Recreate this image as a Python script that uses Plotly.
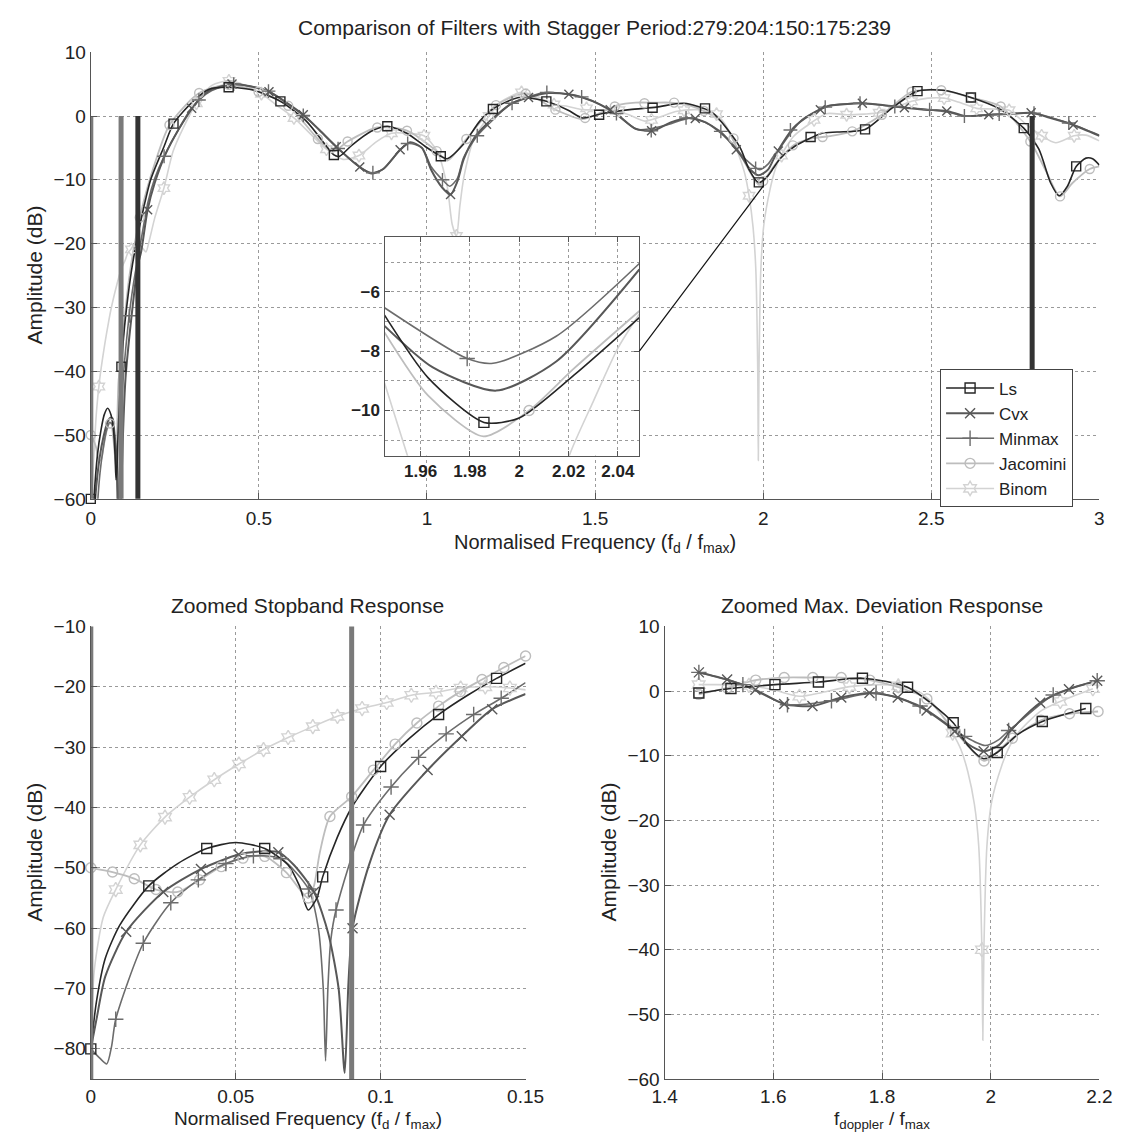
import numpy as np
import plotly.graph_objects as go

W, H = 1131, 1144

# ---------------- data ----------------
# Ls
LS_BL_MK_X = [0.00, 0.02, 0.04, 0.06, 0.08, 0.10, 0.12, 0.14]
LS_BL_MK_Y = [-80.0, -53.0, -46.8, -46.8, -51.5, -33.2, -24.6, -18.6]
LS_TOP_MK_X = [0.000, 0.091, 0.246, 0.410, 0.564, 0.723, 0.882, 1.041, 1.196, 1.355, 1.512, 1.671,
               1.827, 1.987, 2.141, 2.303, 2.459, 2.618, 2.775, 2.931]
LS_TOP_MK_Y = [-60.0, -39.3, -1.2, 4.5, 2.3, -6.1, -1.6, -6.3, 1.1, 2.3, 0.2, 1.3,
               1.2, -10.4, -3.3, -2.1, 3.9, 2.9, -1.9, -7.9]
LS_BR_MK_X = [1.463, 1.522, 1.603, 1.683, 1.764, 1.847, 1.931, 2.012, 2.095, 2.175]
LS_BR_MK_Y = [-0.3, 0.4, 1.0, 1.4, 2.0, 0.6, -4.9, -9.5, -4.7, -2.7]
LS_EX_X = [0.002, 0.005, 0.010, 0.030, 0.050, 0.068, 0.072, 0.075, 0.078, 0.085, 0.090, 0.110, 0.130,
           0.150, 0.178, 0.217, 0.304, 0.352, 0.487, 0.641, 0.699, 0.740, 0.776, 0.834, 0.940, 0.998,
           1.060, 1.109, 1.157, 1.273, 1.420, 1.958, 1.987, 2.030, 2.050, 2.220, 2.382, 2.536, 2.700,
           2.820, 2.855, 2.880, 2.905, 2.960, 2.980, 3.000]
LS_EX_Y = [-72, -65, -59.5, -49.3, -45.8, -49.5, -53.0, -57.0, -55.0, -45.0, -40.0, -28.5, -21.4,
           -16.1, -10.0, -4.9, 2.3, 4.2, 4.0, -0.8, -4.6, -6.3, -4.6, -2.4, -2.7, -4.9,
           -6.7, -4.4, -0.8, 2.9, 0.9, -8.4, -10.45, -8.2, -6.7, -2.5, 1.2, 4.05, 1.2,
           -5.2, -10.5, -12.5, -11.0, -6.6, -6.7, -7.7]

# Cvx
CVX_BL_MK_X = [0.0122, 0.0250, 0.0380, 0.0510, 0.0647, 0.0770, 0.0903, 0.1031, 0.1162, 0.1280, 0.1385]
CVX_BL_MK_Y = [-60.6, -54.0, -50.2, -47.8, -47.4, -54.0, -60.0, -41.2, -33.8, -28.2, -23.7]
CVX_TOP_MK_X = [0.169, 0.300, 0.420, 0.530, 0.632, 0.730, 0.800, 0.920, 1.070, 1.177, 1.302, 1.422,
                1.545, 1.668, 1.798, 1.920, 2.045, 2.170, 2.295, 2.420, 2.546, 2.671, 2.797, 2.922]
CVX_TOP_MK_Y = [-14.7, 1.2, 5.0, 3.8, 0.2, -4.8, -8.0, -5.3, -12.3, -1.3, 2.9, 3.4,
                1.0, -2.3, -0.4, -5.3, -5.5, 1.0, 2.0, 1.3, 0.8, 0.2, 0.5, -1.4]
CVX_BR_MK_X = [1.463, 1.515, 1.567, 1.620, 1.672, 1.725, 1.777, 1.829, 1.882, 1.934, 1.987, 2.039,
               2.091, 2.144, 2.196]
CVX_BR_MK_Y = [2.9, 1.8, 0.2, -2.0, -2.3, -1.0, -0.3, -1.0, -3.0, -6.2, -9.3, -5.9, -1.8, 0.3, 1.6]
CVX_EX_X = [0.000, 0.002, 0.005, 0.058, 0.070, 0.082, 0.0855, 0.0876, 0.0889, 0.096, 0.150, 0.190,
            0.222, 0.260, 0.350, 0.470, 0.680, 0.834, 0.870, 0.950, 0.985, 1.013, 1.045, 1.090,
            1.109, 1.140, 1.250, 1.360, 1.960, 2.015, 2.230, 2.360, 2.480, 2.600, 2.730, 2.860, 3.000]
CVX_EX_Y = [-80, -75, -68, -47.3, -49.5, -61, -70, -84, -69, -49.5, -21.2, -10.5,
            -6.0, -2.2, 3.9, 4.7, -2.2, -9.0, -8.3, -4.1, -5.0, -8.5, -11.2, -10.3,
            -6.8, -3.5, 1.9, 3.6, -8.3, -8.35, 1.8, 1.7, 1.0, 0.0, 0.3, -0.4, -3.1]

# Minmax
MM_BL_MK_X = [0.0086, 0.0181, 0.0276, 0.0371, 0.0466, 0.0561, 0.0656, 0.0751, 0.0846, 0.0941,
              0.1036, 0.1131, 0.1226, 0.1321, 0.1416]
MM_BL_MK_Y = [-75.1, -62.5, -55.8, -52.0, -49.3, -48.0, -48.5, -53.5, -57.0, -42.9,
              -36.6, -31.7, -27.8, -24.6, -21.9]
MM_TOP_MK_X = [0.1145, 0.2180, 0.3215, 0.4250, 0.5285, 0.6320, 0.7355, 0.8390, 0.9425, 1.0460,
               1.1495, 1.2530, 1.3565, 1.4600, 1.5635, 1.6670, 1.7705, 1.8740, 1.9775, 2.0810,
               2.1845, 2.2880, 2.3915, 2.4950, 2.5985, 2.7020, 2.8055, 2.9090]
MM_TOP_MK_Y = [-31.3, -6.3, 2.5, 5.0, 3.9, 0.1, -5.1, -8.9, -4.3, -10.0,
               -3.1, 2.0, 3.7, 3.0, 0.4, -2.3, -0.3, -2.4, -8.2, -2.2,
               1.4, 2.0, 1.5, 1.0, 0.0, 0.3, 0.45, -1.1]
MM_BR_MK_X = [1.463, 1.544, 1.626, 1.707, 1.789, 1.870, 1.952, 2.033, 2.115, 2.196]
MM_BR_MK_Y = [2.9, 1.0, -2.1, -1.5, -0.3, -2.3, -7.0, -6.1, -0.6, 1.6]
MM_EX_X = [0.000, 0.003, 0.0055, 0.0072, 0.0785, 0.0802, 0.0810, 0.0818, 0.0828, 0.150, 0.170,
           0.190, 0.260, 0.360, 0.470, 0.680, 0.800, 0.870, 0.985, 1.013, 1.068, 1.090, 1.109,
           1.200, 1.9894, 2.015, 2.0487, 2.250, 2.550, 2.650, 2.750, 2.860, 3.000]
MM_EX_Y = [-80, -81.5, -82.5, -79.5, -60, -70, -82, -70, -62, -19.3, -13.5,
           -9.8, -2.2, 4.0, 4.7, -2.2, -8.0, -8.3, -5.0, -8.0, -11.0, -9.8, -6.5,
           -0.4, -8.41, -7.5, -5.05, 1.9, 0.6, 0.1, 0.4, -0.3, -3.0]

# Jacomini
JAC_BL_MK_X = [0.0000, 0.0075, 0.0150, 0.0225, 0.0300, 0.0375, 0.0450, 0.0525, 0.0600, 0.0675,
               0.0750, 0.0825, 0.0900, 0.0975, 0.1050, 0.1125, 0.1200, 0.1275, 0.1350, 0.1425, 0.1500]
JAC_BL_MK_Y = [-50.0, -50.7, -51.8, -53.6, -54.0, -52.0, -49.8, -48.4, -48.1, -50.8,
               -55.0, -41.5, -38.2, -33.8, -29.5, -26.0, -23.2, -20.8, -18.8, -16.8, -14.9]
JAC_TOP_MK_X = [0.0000, 0.0574, 0.1457, 0.2340, 0.3223, 0.4106, 0.4989, 0.5872, 0.6755, 0.7638,
                0.8521, 0.9404, 1.0287, 1.1170, 1.2053, 1.2936, 1.3819, 1.4702, 1.5585, 1.6468,
                1.7351, 1.8234, 1.9117, 2.0000, 2.0883, 2.1766, 2.2649, 2.3532, 2.4415, 2.5298,
                2.6181, 2.7064, 2.7947, 2.8830, 2.9713]
JAC_TOP_MK_Y = [-50.0, -48.2, -15.9, -1.4, 3.6, 4.9, 3.8, 1.6, -3.6, -4.0,
                -1.8, -2.3, -5.5, -3.6, 1.7, 3.5, 1.0, -0.3, 1.5, 2.0,
                2.1, 0.8, -3.5, -10.2, -4.6, -3.3, -2.4, 0.2, 3.8, 4.05,
                2.9, 1.5, -4.0, -12.6, -8.3]
JAC_BR_MK_X = [1.4626, 1.5150, 1.5676, 1.6200, 1.6726, 1.7250, 1.7776, 1.8300, 1.8826, 1.9350,
               1.9876, 2.0400, 2.0926, 2.1450, 2.1976]
JAC_BR_MK_Y = [-0.5, 0.5, 1.7, 2.1, 2.1, 2.1, 1.7, 0.6, -1.2, -6.3, -10.8, -7.3, -4.5, -3.5, -3.15]
JAC_EX_X = [0.077, 0.079, 0.190, 0.720, 1.060, 2.004, 2.022, 2.840, 2.920, 3.000]
JAC_EX_Y = [-53.0, -47.5, -7.5, -5.6, -7.0, -10.0, -8.6, -8.5, -10.5, -7.9]

# Binom
BIN_BL_MK_X = [0.0086, 0.0171, 0.0256, 0.0341, 0.0426, 0.0511, 0.0596, 0.0681, 0.0766, 0.0851,
               0.0936, 0.1021, 0.1106, 0.1191, 0.1276, 0.1361, 0.1446]
BIN_BL_MK_Y = [-53.6, -46.2, -41.6, -38.3, -35.4, -32.8, -30.4, -28.4, -26.6, -24.9,
               -23.6, -22.6, -21.4, -20.9, -20.2, -20.0, -20.2]
BIN_TOP_MK_X = [0.0240, 0.1207, 0.2174, 0.3141, 0.4108, 0.5075, 0.6042, 0.7009, 0.7976, 0.8943,
                0.9910, 1.0877, 1.1844, 1.2811, 1.3778, 1.4745, 1.5712, 1.6679, 1.7646, 1.8613,
                1.9580, 2.0547, 2.1514, 2.2481, 2.3448, 2.4415, 2.5382, 2.6349, 2.7316, 2.8283, 2.9250]
BIN_TOP_MK_Y = [-42.4, -20.9, -11.3, 2.0, 5.5, 3.5, -0.3, -5.2, -6.2, -2.7,
                -3.1, -18.8, 0.0, 3.7, 1.8, 1.2, 0.9, -0.6, 0.9, 0.3,
                -12.5, -6.2, -0.6, 0.2, 0.5, 2.3, 2.8, 1.2, 0.9, -3.1, -3.1]
BIN_BR_MK_X = [1.4626, 1.5550, 1.6480, 1.7400, 1.8300, 1.9300, 1.9838, 2.1280, 2.1880]
BIN_BR_MK_Y = [1.0, 0.9, -0.8, 0.7, 0.8, -6.5, -40.0, -1.6, 0.37]
BIN_EX_X = [0.0000, 0.0012, 0.0043, 0.1500, 0.1570, 0.1640, 0.1750, 0.1900, 0.2450, 0.2750, 0.3600,
            0.4600, 0.5500, 0.7500, 0.8500, 0.9400, 1.0300, 1.0600, 1.0750, 1.0980, 1.1100, 1.1400,
            1.2200, 1.3300, 1.4200, 1.6000, 1.6900, 1.8000, 1.8700, 1.9000, 1.9454, 1.9580, 1.9700,
            1.9780, 1.9855, 1.9875, 1.9930, 2.0020, 2.0204, 2.0350, 2.0500, 2.0900, 2.3000, 2.4000,
            2.4900, 2.5800, 2.6800, 2.7800, 2.8700, 2.9600, 3.0000]
BIN_EX_Y = [-80, -67, -58.2, -20.5, -20.9, -21.3, -19.3, -16.0, -5.5, -1.85, 4.8,
            4.8, 1.8, -6.8, -4.0, -2.7, -5.5, -11.0, -17.0, -14.0, -9.5, -3.5,
            2.2, 3.0, 1.5, 0.2, -0.2, 1.0, -0.2, -2.5, -9.07, -12.5, -17.5,
            -24.0, -54.0, -40.0, -24.0, -17.0, -11.5, -8.5, -6.5, -3.2, 0.3, 1.5,
            2.8, 2.2, 1.1, -1.2, -4.2, -3.0, -3.9]

# inset (zoom around f = 2)
IN_LS_X = [1.9454, 1.9631, 1.9857, 2.0000, 2.0223, 2.0487]
IN_LS_Y = [-6.79, -8.9, -10.4, -10.25, -8.8, -6.87]
IN_CVX_X = [1.9454, 1.9650, 1.9907, 2.0150, 2.0487]
IN_CVX_Y = [-7.15, -8.55, -9.33, -8.35, -5.25]
IN_MM_X = [1.9454, 1.9789, 1.9894, 2.0150, 2.0487]
IN_MM_Y = [-6.54, -8.25, -8.41, -7.5, -5.05]
IN_JAC_X = [1.9454, 1.9631, 1.9855, 2.0040, 2.0220, 2.0487]
IN_JAC_Y = [-7.37, -9.5, -10.87, -10.0, -8.6, -6.65]
IN_BIN_X = [1.9454, 1.9550, 1.9620, 1.9855, 2.0140, 2.0204, 2.0300, 2.0400, 2.0487]
IN_BIN_Y = [-9.07, -11.6, -13.5, -54.0, -13.5, -11.5, -9.7, -7.9, -6.75]
IN_MK = {"Ls": ([1.9857], [-10.4]), "Minmax": ([1.9789], [-8.25]), "Jacomini": ([2.004], [-10.0])}

# band edges
STOP_EDGES = [0.0, 0.09]
PASS_EDGES = [0.14, 2.8]
EDGE_Y = [0.0, -100.0]

# connector from inset to main curve
LINK_INSET = (2.0487, -8.0)
LINK_MAIN = (2.0, -11.0)

# ---------------- styles ----------------
STYLE = {
    "Ls": dict(color="#262626", width=1.6, symbol="square-open", size=10),
    "Cvx": dict(color="#585858", width=2.0, symbol="x-thin-open", size=10),
    "Minmax": dict(color="#6c6c6c", width=1.6, symbol="cross-thin-open", size=11),
    "Jacomini": dict(color="#bdbdbd", width=1.8, symbol="circle-open", size=10),
    "Binom": dict(color="#d3d3d3", width=1.6, symbol="hexagram-open", size=11),
}

DATA = {
    "Ls": dict(bl=(LS_BL_MK_X, LS_BL_MK_Y), top=(LS_TOP_MK_X, LS_TOP_MK_Y), br=(LS_BR_MK_X, LS_BR_MK_Y),
               ex=(LS_EX_X, LS_EX_Y), inset=(IN_LS_X, IN_LS_Y)),
    "Cvx": dict(bl=(CVX_BL_MK_X, CVX_BL_MK_Y), top=(CVX_TOP_MK_X, CVX_TOP_MK_Y), br=(CVX_BR_MK_X, CVX_BR_MK_Y),
                ex=(CVX_EX_X, CVX_EX_Y), inset=(IN_CVX_X, IN_CVX_Y)),
    "Minmax": dict(bl=(MM_BL_MK_X, MM_BL_MK_Y), top=(MM_TOP_MK_X, MM_TOP_MK_Y), br=(MM_BR_MK_X, MM_BR_MK_Y),
                   ex=(MM_EX_X, MM_EX_Y), inset=(IN_MM_X, IN_MM_Y)),
    "Jacomini": dict(bl=(JAC_BL_MK_X, JAC_BL_MK_Y), top=(JAC_TOP_MK_X, JAC_TOP_MK_Y), br=(JAC_BR_MK_X, JAC_BR_MK_Y),
                     ex=(JAC_EX_X, JAC_EX_Y), inset=(IN_JAC_X, IN_JAC_Y)),
    "Binom": dict(bl=(BIN_BL_MK_X, BIN_BL_MK_Y), top=(BIN_TOP_MK_X, BIN_TOP_MK_Y), br=(BIN_BR_MK_X, BIN_BR_MK_Y),
                  ex=(BIN_EX_X, BIN_EX_Y), inset=(IN_BIN_X, IN_BIN_Y)),
}
LEGEND_ORDER = ["Ls", "Cvx", "Minmax", "Jacomini", "Binom"]
DRAW_ORDER = ["Binom", "Jacomini", "Minmax", "Cvx", "Ls"]

BL_WIN = (0.0, 0.152)
BR_WIN = (1.46, 2.2)


def merge(*parts):
    xs = np.concatenate([np.asarray(p[0], float) for p in parts])
    ys = np.concatenate([np.asarray(p[1], float) for p in parts])
    order = np.argsort(xs, kind="stable")
    xs, ys = xs[order], ys[order]
    keep = np.concatenate([[True], np.diff(xs) > 1e-9])
    return xs[keep], ys[keep]


def outside_windows(p):
    x = np.asarray(p[0], float)
    y = np.asarray(p[1], float)
    m = (x > BL_WIN[1]) & ((x < BR_WIN[0] - 0.02) | (x > BR_WIN[1] + 0.01))
    return x[m], y[m]


def window(x, y, lo, hi):
    m = (x >= lo) & (x <= hi)
    return x[m], y[m]


# ---------------- layout geometry (pixels) ----------------
def dx(l, r):
    return [l / W, r / W]


def dy(t, b):
    return [1 - b / H, 1 - t / H]


TOP_X, TOP_Y = dx(80, 1117), dy(43, 498)
BL_X, BL_Y = dx(80, 527), dy(628, 1089)
BR_X, BR_Y = dx(670, 1117), dy(628, 1089)
IN_X, IN_Y = dx(382, 644), dy(231, 454)

TOP_XR, TOP_YR = [0, 3], [-60, 10]
BL_XR, BL_YR = [0, 0.15], [-85, -10]
BR_XR, BR_YR = [1.4, 2.2], [-60, 10]
IN_XR, IN_YR = [1.9454, 2.0487], [-11.52, -4.15]

FONT = "Liberation Sans, Arial, Helvetica, sans-serif"
TICK_SIZE = 19

fig = go.Figure()


def line_trace(x, y, st, xa, ya):
    return go.Scatter(x=x, y=y, mode="lines", xaxis=xa, yaxis=ya, showlegend=False, hoverinfo="skip",
                      line=dict(color=st["color"], width=st["width"], shape="spline", smoothing=0.7))


def mk_trace(x, y, st, xa, ya, scale=1.0):
    return go.Scatter(x=x, y=y, mode="markers", xaxis=xa, yaxis=ya, showlegend=False, hoverinfo="skip",
                      cliponaxis=False,
                      marker=dict(symbol=st["symbol"], size=st["size"] * scale, color=st["color"],
                                  line=dict(color=st["color"], width=1.4)))


curves = {}
for name in DRAW_ORDER:
    d = DATA[name]
    curves[name] = merge(d["bl"], outside_windows(d["top"]), d["br"], d["ex"])

# --- top plot
for name in DRAW_ORDER:
    x, y = curves[name]
    fig.add_trace(line_trace(x, y, STYLE[name], "x", "y"))
for name in DRAW_ORDER:
    x, y = DATA[name]["top"]
    fig.add_trace(mk_trace(x, y, STYLE[name], "x", "y", 0.9))
for e in STOP_EDGES:
    fig.add_trace(go.Scatter(x=[e, e], y=EDGE_Y, mode="lines", xaxis="x", yaxis="y", showlegend=False,
                             hoverinfo="skip", line=dict(color="#7a7a7a", width=5)))
for e in PASS_EDGES:
    fig.add_trace(go.Scatter(x=[e, e], y=EDGE_Y, mode="lines", xaxis="x", yaxis="y", showlegend=False,
                             hoverinfo="skip", line=dict(color="#333333", width=5)))

# --- bottom-left plot
for name in DRAW_ORDER:
    x, y = window(*curves[name], BL_WIN[0], 0.16)
    fig.add_trace(line_trace(x, y, STYLE[name], "x2", "y2"))
for name in DRAW_ORDER:
    x, y = DATA[name]["bl"]
    fig.add_trace(mk_trace(x, y, STYLE[name], "x2", "y2"))
for e in STOP_EDGES:
    fig.add_trace(go.Scatter(x=[e, e], y=EDGE_Y, mode="lines", xaxis="x2", yaxis="y2", showlegend=False,
                             hoverinfo="skip", line=dict(color="#7a7a7a", width=5)))

# --- bottom-right plot
for name in DRAW_ORDER:
    x, y = window(*curves[name], BR_WIN[0], BR_WIN[1])
    fig.add_trace(line_trace(x, y, STYLE[name], "x3", "y3"))
for name in DRAW_ORDER:
    x, y = DATA[name]["br"]
    fig.add_trace(mk_trace(x, y, STYLE[name], "x3", "y3"))

# --- inset
for name in DRAW_ORDER:
    x, y = DATA[name]["inset"]
    fig.add_trace(line_trace(x, y, STYLE[name], "x4", "y4"))
for name in DRAW_ORDER:
    if name in IN_MK:
        x, y = IN_MK[name]
        fig.add_trace(mk_trace(x, y, STYLE[name], "x4", "y4"))

# --- legend entries
for name in LEGEND_ORDER:
    st = STYLE[name]
    fig.add_trace(go.Scatter(x=[None], y=[None], mode="lines+markers", name=name, xaxis="x", yaxis="y",
                             line=dict(color=st["color"], width=st["width"]),
                             marker=dict(symbol=st["symbol"], size=st["size"], color=st["color"],
                                         line=dict(color=st["color"], width=1.4))))


def axis(domain, rng, **kw):
    d = dict(domain=domain, range=rng, showline=True, linecolor="#555", linewidth=1.3,
             ticks="inside", ticklen=6, tickcolor="#555", tickwidth=1.2,
             showgrid=True, gridcolor="#9a9a9a", griddash="dot", gridwidth=1, zeroline=False,
             tickfont=dict(family=FONT, size=TICK_SIZE, color="#222"), fixedrange=True)
    d.update(kw)
    return d


INSET_FONT = dict(family=FONT, size=17, color="#222", weight="bold")
MINOR_GRID = dict(showgrid=True, gridcolor="#9a9a9a", griddash="dot", gridwidth=1, ticks="")

fig.update_layout(
    width=W, height=H, margin=dict(l=0, r=0, t=0, b=0),
    paper_bgcolor="white", plot_bgcolor="rgba(0,0,0,0)",
    font=dict(family=FONT, size=TICK_SIZE, color="#222"),
    xaxis=axis(TOP_X, TOP_XR, anchor="y", tickvals=[0, 0.5, 1, 1.5, 2, 2.5, 3],
               ticktext=["0", "0.5", "1", "1.5", "2", "2.5", "3"], ticklabelstandoff=2),
    yaxis=axis(TOP_Y, TOP_YR, anchor="x", tickvals=list(range(-60, 11, 10))),
    xaxis2=axis(BL_X, BL_XR, anchor="y2", tickvals=[0, 0.05, 0.1, 0.15],
                ticktext=["0", "0.05", "0.1", "0.15"], ticklabelstandoff=0),
    yaxis2=axis(BL_Y, BL_YR, anchor="x2", tickvals=list(range(-80, -9, 10))),
    xaxis3=axis(BR_X, BR_XR, anchor="y3", tickvals=[1.4, 1.6, 1.8, 2.0, 2.2],
                ticktext=["1.4", "1.6", "1.8", "2", "2.2"], ticklabelstandoff=0),
    yaxis3=axis(BR_Y, BR_YR, anchor="x3", tickvals=list(range(-60, 11, 10))),
    xaxis4=axis(IN_X, IN_XR, anchor="y4", tickvals=[1.96, 1.98, 2.0, 2.02, 2.04],
                ticktext=["1.96", "1.98", "2", "2.02", "2.04"], mirror="ticks", ticklen=5,
                tickfont=INSET_FONT),
    yaxis4=axis(IN_Y, IN_YR, anchor="x4", tickvals=[-10, -8, -6],
                ticktext=["\u221210", "\u22128", "\u22126"], mirror="ticks", ticklen=5,
                tickfont=INSET_FONT, minor=dict(tick0=-11, dtick=1, **MINOR_GRID)),
    legend=dict(x=953 / W, y=1 - 366 / H, xanchor="left", yanchor="top", bgcolor="white",
                bordercolor="#444", borderwidth=1.2, font=dict(family=FONT, size=17, color="#222"),
                tracegroupgap=0, itemwidth=48),
    showlegend=True,
)

# inset opaque background (below inset gridlines, above main traces)
fig.add_shape(type="rect", xref="x4", yref="y4", x0=IN_XR[0], x1=IN_XR[1], y0=IN_YR[0], y1=IN_YR[1],
              fillcolor="white", line=dict(width=0), layer="below")


def to_paper(v, dom, rng):
    return dom[0] + (v - rng[0]) / (rng[1] - rng[0]) * (dom[1] - dom[0])


fig.add_shape(type="line", xref="paper", yref="paper",
              x0=to_paper(LINK_INSET[0], IN_X, IN_XR), y0=to_paper(LINK_INSET[1], IN_Y, IN_YR),
              x1=to_paper(LINK_MAIN[0], TOP_X, TOP_XR), y1=to_paper(LINK_MAIN[1], TOP_Y, TOP_YR),
              line=dict(color="#111", width=1.2), layer="above")


def text(t, xp, yp, size=21, angle=0, yanchor="middle"):
    fig.add_annotation(text=t, x=xp / W, y=1 - yp / H, xref="paper", yref="paper", showarrow=False,
                       textangle=angle, xanchor="center", yanchor=yanchor,
                       font=dict(family=FONT, size=size, color="#222"))


text("Comparison of Filters with Stagger Period:279:204:150:175:239", 598, 18)
text("Normalised Frequency (f<sub>d</sub> / f<sub>max</sub>)", 598, 558, 20, 0, "bottom")
text("Amplitude (dB)", 22, 270, 21, -90)
text("Zoomed Stopband Response", 303, 607)
text("Zoomed Max. Deviation Response", 893, 607)
text("Normalised Frequency (f<sub>d</sub> / f<sub>max</sub>)", 303, 1145, 19, 0, "bottom")
text("Amplitude (dB)", 22, 858, 21, -90)
text("f<sub>doppler</sub> / f<sub>max</sub>", 893, 1145, 19, 0, "bottom")
text("Amplitude (dB)", 612, 858, 21, -90)

fig.write_html("out.html")
